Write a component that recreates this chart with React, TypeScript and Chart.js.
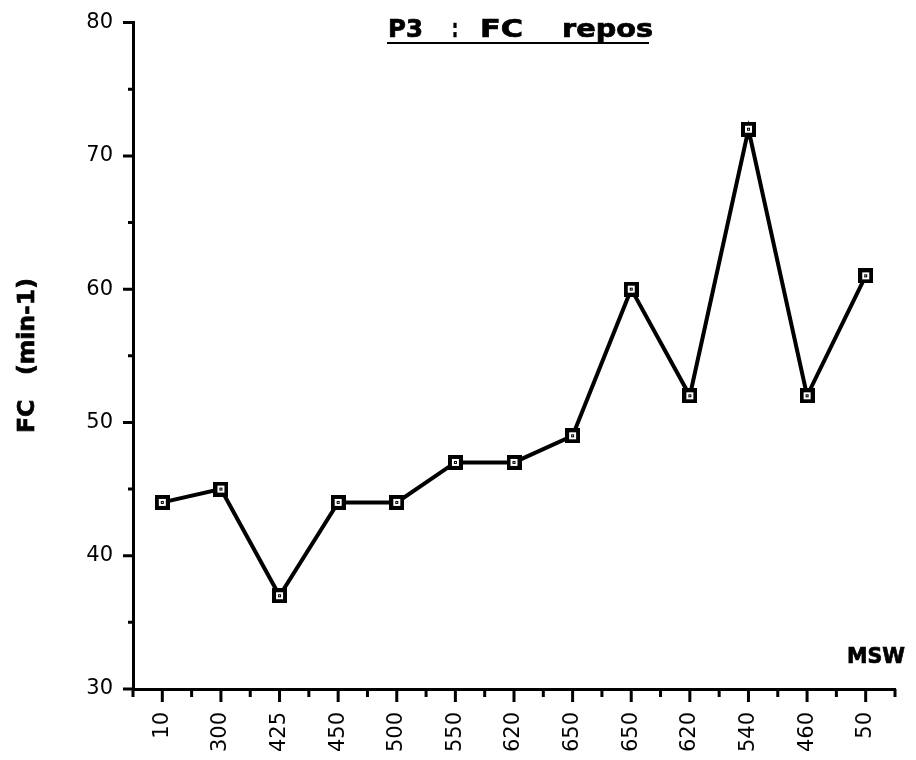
import React, { useEffect, useRef } from "react";
import { Chart, registerables } from "chart.js";

Chart.register(...registerables);

const categories = ["10", "300", "425", "450", "500", "550", "620", "650", "650", "620", "540", "460", "50"];
const fcValues = [44, 45, 37, 44, 44, 47, 47, 49, 60, 52, 72, 52, 61];
const yMin = 30;
const yMax = 80;
const yStep = 10;
const titleParts = ["P3", ":", "FC", "repos"];
const yAxisTitle = "FC   (min-1)";
const xAxisTitle = "MSW";

const FONT = "'DejaVu Sans', 'Liberation Sans', Arial, sans-serif";

function makeMarker(): HTMLCanvasElement {
  const c = document.createElement("canvas");
  c.width = 15;
  c.height = 15;
  const g = c.getContext("2d")!;
  g.fillStyle = "#000";
  g.fillRect(0, 0, 15, 15);
  g.fillStyle = "#fff";
  g.fillRect(4, 4, 7, 7);
  g.fillStyle = "#000";
  g.fillRect(6, 6, 3, 3);
  g.fillStyle = "#fff";
  g.fillRect(7, 7, 1, 1);
  return c;
}

function drawStretched(ctx: CanvasRenderingContext2D, text: string, x: number, y: number, target: number) {
  const w = ctx.measureText(text).width;
  const sx = w > 0 ? target / w : 1;
  ctx.save();
  ctx.translate(x, y);
  ctx.scale(sx, 1);
  ctx.fillText(text, 0, 0);
  ctx.lineWidth = 0.7;
  ctx.strokeText(text, 0, 0);
  ctx.restore();
}

const decorPlugin = {
  id: "decor",
  afterDraw(chart: any) {
    const ctx: CanvasRenderingContext2D = chart.ctx;
    const xs = chart.scales.x;
    const ys = chart.scales.y;
    const area = chart.chartArea;
    ctx.save();
    ctx.strokeStyle = "#000";
    ctx.lineWidth = 3;
    ctx.lineCap = "butt";
    // x ticks
    const n = categories.length;
    const p0 = xs.getPixelForValue(0);
    const sp = n > 1 ? xs.getPixelForValue(1) - p0 : 0;
    ctx.beginPath();
    for (let i = 0; i < n; i++) {
      const px = xs.getPixelForValue(i);
      ctx.moveTo(px, area.bottom);
      ctx.lineTo(px, area.bottom + 13);
    }
    for (let k = 0; k <= n; k++) {
      const px = p0 - sp / 2 + k * sp;
      ctx.moveTo(px, area.bottom);
      ctx.lineTo(px, area.bottom + 8);
    }
    // y ticks
    for (let v = yMin; v <= yMax; v += yStep / 2) {
      const py = ys.getPixelForValue(v);
      const len = v % yStep === 0 ? 10 : 5;
      ctx.moveTo(area.left, py);
      ctx.lineTo(area.left - len, py);
    }
    ctx.stroke();

    // title
    ctx.fillStyle = "#000";
    ctx.strokeStyle = "#000";
    ctx.textBaseline = "alphabetic";
    ctx.textAlign = "left";
    ctx.font = `bold 25px ${FONT}`;
    const pos = [
      [388, 35],
      [452, 6],
      [480, 43],
      [562, 91],
    ];
    titleParts.forEach((t, i) => drawStretched(ctx, t, pos[i][0], 37, pos[i][1]));
    ctx.fillRect(387, 42, 262, 2);

    // y axis title
    ctx.save();
    ctx.translate(28, 356);
    ctx.rotate(-Math.PI / 2);
    ctx.textAlign = "left";
    ctx.textBaseline = "middle";
    ctx.font = `bold 23px ${FONT}`;
    drawStretched(ctx, yAxisTitle, -77, 0, 155);
    ctx.restore();

    // x axis title
    ctx.font = `bold 22px ${FONT}`;
    ctx.textBaseline = "alphabetic";
    drawStretched(ctx, xAxisTitle, 847, 663, 58);
    ctx.restore();
  },
};

export default function App() {
  const ref = useRef<HTMLCanvasElement | null>(null);
  useEffect(() => {
    if (!ref.current) return;
    const marker = makeMarker();
    const chart = new Chart(ref.current, {
      type: "line",
      data: {
        labels: categories,
        datasets: [
          {
            data: fcValues,
            borderColor: "#000",
            backgroundColor: "#000",
            borderWidth: 4,
            tension: 0,
            pointStyle: marker as any,
            pointRadius: 7,
            pointHoverRadius: 7,
            clip: false as any,
          },
        ],
      },
      options: {
        responsive: false,
        animation: false,
        events: [],
        layout: { padding: { top: 22, right: 21, left: 0, bottom: 0 } },
        plugins: {
          legend: { display: false },
          title: { display: false },
          tooltip: { enabled: false },
        },
        scales: {
          x: {
            type: "category",
            offset: true,
            grid: { display: true, drawOnChartArea: false, drawTicks: true, tickLength: 13, color: "rgba(0,0,0,0)" },
            border: { display: true, color: "#000", width: 3 },
            ticks: {
              autoSkip: false,
              maxRotation: 90,
              minRotation: 90,
              padding: 10,
              color: "#000",
              font: { family: FONT, size: 21 },
            },
            afterFit: (s: any) => {
              s.height = 71;
            },
          },
          y: {
            min: yMin,
            max: yMax,
            grid: { display: true, drawOnChartArea: false, drawTicks: true, tickLength: 10, color: "rgba(0,0,0,0)" },
            border: { display: true, color: "#000", width: 3 },
            ticks: {
              stepSize: yStep,
              padding: 10,
              color: "#000",
              font: { family: FONT, size: 21 },
            },
            afterFit: (s: any) => {
              s.width = 133;
            },
          },
        },
      },
      plugins: [decorPlugin],
    });
    return () => chart.destroy();
  }, []);
  return (
    <div style={{ position: "fixed", left: 0, top: 0, width: 916, height: 760, background: "#fff" }}>
      <canvas ref={ref} width={916} height={760} style={{ width: 916, height: 760, display: "block" }} />
    </div>
  );
}
